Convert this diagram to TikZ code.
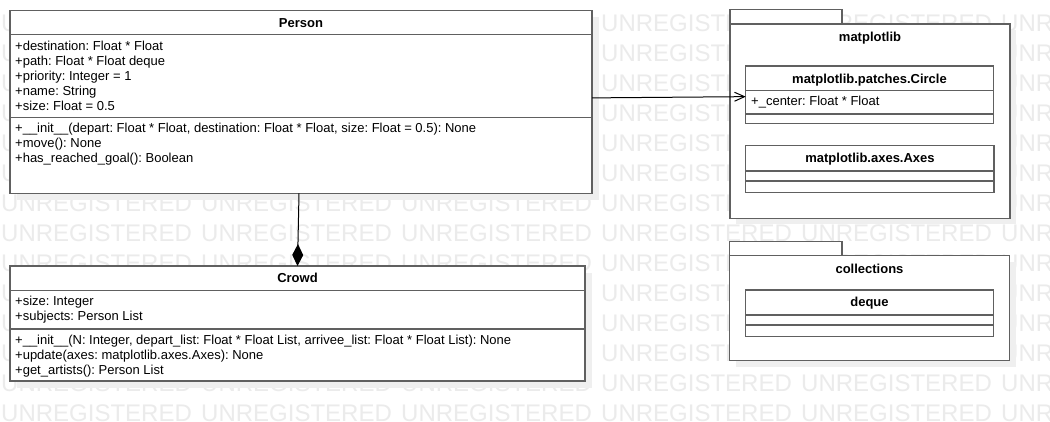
\documentclass[tikz,border=0pt]{standalone}
\usepackage{fontspec}
\setmainfont{Liberation Sans}
\usetikzlibrary{arrows.meta}
\definecolor{wmc}{HTML}{EBEBEB}
\definecolor{shc}{HTML}{EFEFEF}
\definecolor{boxc}{HTML}{606060}
\tikzset{
  umlbox/.style={draw=boxc, line width=1.5pt, fill=white, inner sep=0pt, outer sep=0pt, anchor=north west},
  sepline/.style={draw=boxc, line width=1.5pt},
  shadowfill/.style={fill=shc},
  attr/.style={anchor=base west, inner sep=0pt, font=\fontsize{13}{15}\selectfont},
  ttl/.style={anchor=base, inner sep=0pt, font=\fontsize{13}{15}\selectfont\bfseries},
  wm/.style={anchor=base west, inner sep=0pt, text=wmc, font=\fontsize{24}{26}\selectfont},
  conn/.style={draw=black, line width=1pt},
}
\frenchspacing
\begin{document}
\begin{tikzpicture}[x=1pt,y=-1pt]
\useasboundingbox[fill=white] (0,0) rectangle (1050,421);
% watermark (instances wholly hidden behind the boxes are left out)
\foreach \r in {0,...,13}{
  \foreach \c in {0,...,5}{
    \pgfmathtruncatemacro\wmskip{((\c==1 || \c==2) && \r<=5) || ((\c==1 || \c==2) && \r>=9 && \r<=11) || (\c==4 && \r>=1 && \r<=6) || (\c==4 && (\r==9 || \r==10)) ? 1 : 0}
    \ifnum\wmskip=0
      \node[wm] (wm-\r-\c) at (200*\c+1, 31.5+30*\r) {UNREGISTERED};
    \fi
  }
}
% shadows
\fill[shadowfill] (16.5,17) rectangle (598.5,199.8);
\fill[shadowfill] (16.5,272.5) rectangle (591.5,387.5);
\fill[shadowfill] (736,30) rectangle (1015.5,224);
\fill[shadowfill] (752,72) rectangle (999.5,129.5);
\fill[shadowfill] (752,152) rectangle (1000,199);
\fill[shadowfill] (736,262) rectangle (1015.5,366.7);
\fill[shadowfill] (752,296) rectangle (999.5,342.7);

% Person
\node[umlbox, minimum width=582pt, minimum height=182.8pt] (person) at (10,10.5) {};
\draw[sepline] (10,34.7) -- (592,34.7);
\draw[sepline] (10,117.7) -- (592,117.7);
\node[ttl] (person-t) at (301,27) {Person};
\node[attr] (p1) at (15,50) {+destination: Float * Float};
\node[attr] (p2) at (15,65) {+path: Float * Float deque};
\node[attr] (p3) at (15,80) {+priority: Integer = 1};
\node[attr] (p4) at (15,95) {+name: String};
\node[attr] (p5) at (15,110) {+size: Float = 0.5};
\node[attr] (p6) at (15,132.5) {+\_\_init\_\_(depart: Float * Float, destination: Float * Float, size: Float = 0.5): None};
\node[attr] (p7) at (15,147.5) {+move(): None};
\node[attr] (p8) at (15,162.5) {+has\_reached\_goal(): Boolean};

% Crowd
\node[umlbox, minimum width=575pt, minimum height=115pt] (crowd) at (10,266) {};
\draw[sepline] (10,290.7) -- (585,290.7);
\draw[sepline] (10,329) -- (585,329);
\node[ttl] (crowd-t) at (297.5,282.7) {Crowd};
\node[attr] (c1) at (15,305) {+size: Integer};
\node[attr] (c2) at (15,320) {+subjects: Person List};
\node[attr] (c3) at (15,344.3) {+\_\_init\_\_(N: Integer, depart\_list: Float * Float List, arrivee\_list: Float * Float List): None};
\node[attr] (c4) at (15,359.3) {+update(axes: matplotlib.axes.Axes): None};
\node[attr] (c5) at (15,374) {+get\_artists(): Person List};

% matplotlib package
\node[umlbox, minimum width=112pt, minimum height=14.5pt] (mpltab) at (730,9.5) {};
\node[umlbox, minimum width=280pt, minimum height=194.3pt] (mplpkg) at (730,24) {};
\node[ttl] (mpl-t) at (870,41.7) {matplotlib};

\node[umlbox, minimum width=247.6pt, minimum height=57.3pt] (circle) at (745.7,66) {};
\draw[sepline] (745.7,90.7) -- (993.3,90.7);
\draw[sepline] (745.7,114) -- (993.3,114);
\node[ttl] (circle-t) at (869.5,83.3) {matplotlib.patches.Circle};
\node[attr] (circle-a) at (751,105) {+\_center: Float * Float};

\node[umlbox, minimum width=248.3pt, minimum height=47pt] (axes) at (745.7,145.7) {};
\draw[sepline] (745.7,171) -- (994,171);
\draw[sepline] (745.7,181) -- (994,181);
\node[ttl] (axes-t) at (870,162.7) {matplotlib.axes.Axes};

% collections package
\node[umlbox, minimum width=112.5pt, minimum height=14pt] (coltab) at (729.5,241.7) {};
\node[umlbox, minimum width=280pt, minimum height=105pt] (colpkg) at (729.5,255.7) {};
\node[ttl] (col-t) at (869.5,273.3) {collections};

\node[umlbox, minimum width=247.6pt, minimum height=46.7pt] (deque) at (745.7,290) {};
\draw[sepline] (745.7,315) -- (993.3,315);
\draw[sepline] (745.7,325) -- (993.3,325);
\node[ttl] (deque-t) at (869.5,306) {deque};

% connectors
\draw[conn, -{Straight Barb[length=10pt,width=9pt,line width=1pt]}] ([yshift=4pt]person.east) -- ([yshift=-2pt]circle.west);
\draw[conn, -{Diamond[length=22pt,width=11pt,fill=black]}] ([xshift=-2pt]person.south) -- (crowd.north);
\end{tikzpicture}
\end{document}
